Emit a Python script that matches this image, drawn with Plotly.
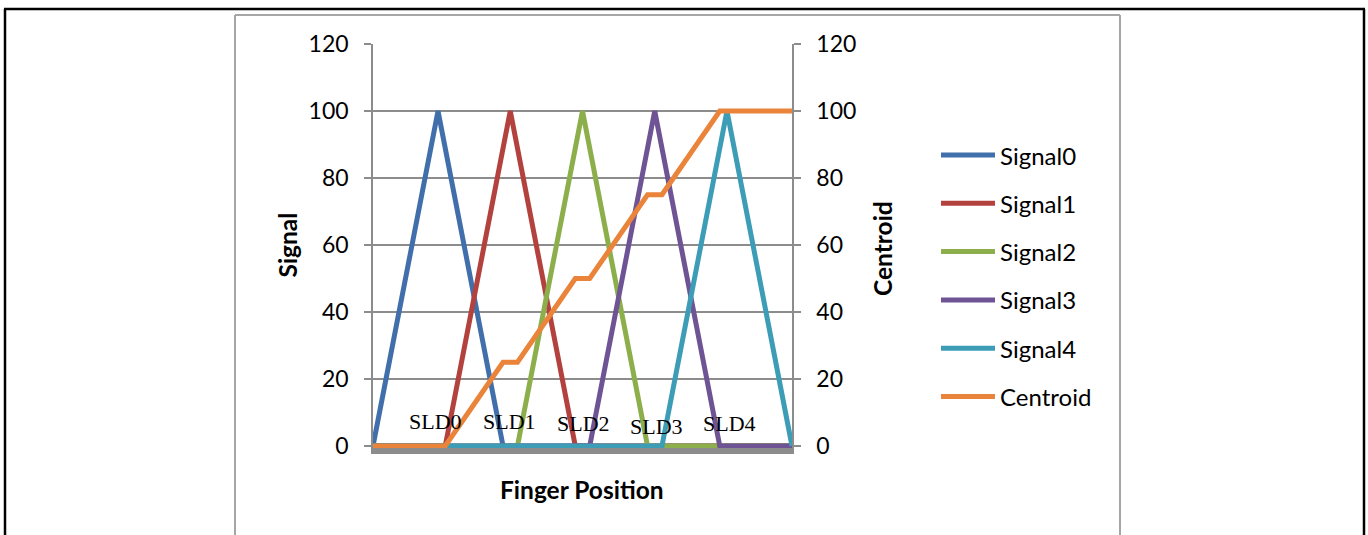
import plotly.graph_objects as go

# ---------------- data ----------------
series_names = ["Signal0", "Signal1", "Signal2", "Signal3", "Signal4"]
signal0_pos = [0, 9, 18, 58]
signal0_val = [0, 100, 0, 0]
signal1_pos = [0, 10, 19, 28, 58]
signal1_val = [0, 0, 100, 0, 0]
signal2_pos = [0, 20, 29, 38, 58]
signal2_val = [0, 0, 100, 0, 0]
signal3_pos = [0, 30, 39, 48, 58]
signal3_val = [0, 0, 100, 0, 0]
signal4_pos = [0, 40, 49, 58]
signal4_val = [0, 0, 100, 0]
centroid_name = "Centroid"
centroid_pos = [0, 10, 18, 20, 28, 30, 38, 40, 48, 58]
centroid_val = [0, 0, 25, 25, 50, 50, 75, 75, 100, 100]
sensor_labels = ["SLD0", "SLD1", "SLD2", "SLD3", "SLD4"]
y_ticks = [0, 20, 40, 60, 80, 100, 120]

# ---------------- style ----------------
W, H = 1368, 535
L, R, T, B = 373, 792, 44, 448   # plot area in page pixels
colors = ["#416FAB", "#B3423F", "#8CAE4B", "#6E5495", "#3E9DB6"]
centroid_color = "#E9843A"
grid = "#8C8C8C"
FONT = "Lato"
FS = 23


def px(x):
    return (x - L) / (R - L)


def py(y):
    return (B - y) / (B - T)


fig = go.Figure()
sig_pos = [signal0_pos, signal1_pos, signal2_pos, signal3_pos, signal4_pos]
sig_val = [signal0_val, signal1_val, signal2_val, signal3_val, signal4_val]
for name, xs, ys, c in zip(series_names, sig_pos, sig_val, colors):
    fig.add_trace(go.Scatter(x=xs, y=ys, name=name, mode="lines",
                             line=dict(color=c, width=5), showlegend=False))
fig.add_trace(go.Scatter(x=centroid_pos, y=centroid_val, name=centroid_name,
                         mode="lines", yaxis="y2",
                         line=dict(color=centroid_color, width=5), showlegend=False))

shapes = []
# outer page frame (black)
for (x0, y0, x1, y1) in [(4, 9, 1365, 9), (5, 9, 5, 545), (1364, 9, 1364, 545)]:
    shapes.append(dict(type="line", xref="paper", yref="paper",
                       x0=px(x0), y0=py(y0), x1=px(x1), y1=py(y1),
                       line=dict(color="black", width=2.5)))
# chart frame (gray)
for (x0, y0, x1, y1) in [(235, 15, 1120, 15), (235, 15, 235, 545), (1120, 15, 1120, 545)]:
    shapes.append(dict(type="line", xref="paper", yref="paper",
                       x0=px(x0), y0=py(y0), x1=px(x1), y1=py(y1),
                       line=dict(color="#A6A6A6", width=2)))

annotations = []
# custom legend
legend_names = series_names + [centroid_name]
legend_colors = colors + [centroid_color]
for i, (n, c) in enumerate(zip(legend_names, legend_colors)):
    yy = 155 + 48.3 * i
    shapes.append(dict(type="line", xref="paper", yref="paper",
                       x0=px(941), x1=px(995), y0=py(yy), y1=py(yy),
                       line=dict(color=c, width=5)))
    annotations.append(dict(text=n, xref="paper", yref="paper", x=px(998), y=py(yy),
                            xanchor="left", yanchor="middle", showarrow=False,
                            font=dict(family=FONT, size=24, color="black")))

# sensor labels
label_x = [8.7, 18.9, 29.1, 39.2, 49.3]
label_y = [7.2, 7.2, 6.6, 5.7, 6.6]
for t, xx, yy in zip(sensor_labels, label_x, label_y):
    annotations.append(dict(text=t, xref="x", yref="y", x=xx, y=yy,
                            xanchor="center", yanchor="middle", showarrow=False,
                            font=dict(family="Liberation Serif", size=22, color="black")))

# axis titles
TFS = 24.5
annotations.append(dict(text="<b>Signal</b>", xref="paper", yref="paper", x=px(287), y=py(245.5),
                        textangle=-90, showarrow=False, xanchor="center", yanchor="middle",
                        font=dict(family=FONT, size=TFS, color="black")))
annotations.append(dict(text="<b>Centroid</b>", xref="paper", yref="paper", x=px(882), y=py(249),
                        textangle=-90, showarrow=False, xanchor="center", yanchor="middle",
                        font=dict(family=FONT, size=TFS, color="black")))
annotations.append(dict(text="<b>Finger Position</b>", xref="paper", yref="paper", x=px(582), y=py(489),
                        showarrow=False, xanchor="center", yanchor="middle",
                        font=dict(family=FONT, size=TFS, color="black")))

axis_common = dict(range=[-0.6, 120], tickvals=y_ticks, zeroline=False,
                   showline=True, linecolor=grid, linewidth=1.5,
                   ticks="outside", ticklen=7, tickcolor=grid, tickwidth=1.5,
                   ticklabelstandoff=11,
                   tickfont=dict(family=FONT, size=FS, color="black"))

fig.update_layout(
    width=W, height=H,
    margin=dict(l=L, r=W - R, t=T, b=H - B, autoexpand=False),
    paper_bgcolor="white", plot_bgcolor="white",
    showlegend=False,
    xaxis=dict(range=[0, 58], showticklabels=False, ticks="", showgrid=False,
               zeroline=False, showline=True, linewidth=6, linecolor=grid),
    yaxis=dict(showgrid=True, gridcolor=grid, gridwidth=1.5, **axis_common),
    yaxis2=dict(overlaying="y", side="right", showgrid=False, **axis_common),
    shapes=shapes,
    annotations=annotations,
)

fig.write_html("out.html", config={"displayModeBar": False},
               post_script="document.body.style.margin='0';document.body.style.overflow='hidden';")
